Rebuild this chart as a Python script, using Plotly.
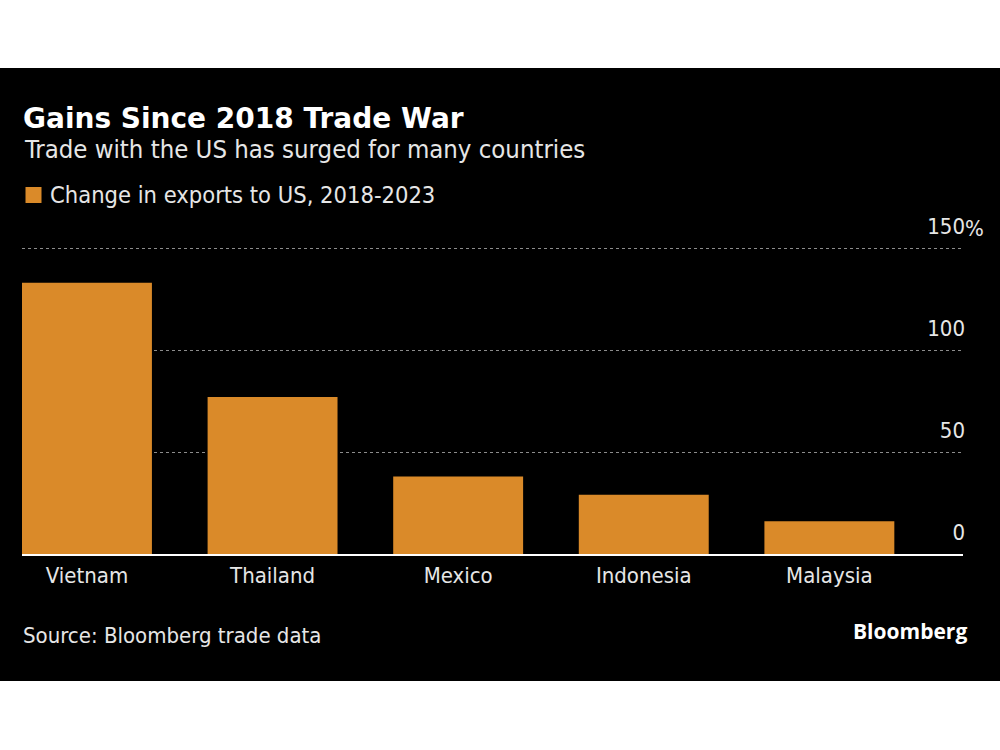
import plotly.graph_objects as go

countries = ["Vietnam", "Thailand", "Mexico", "Indonesia", "Malaysia"]
export_change = [133, 77, 38, 29, 16]
y_tickvals = [0, 50, 100, 150]
y_ticktext = ["0", "50", "100", "150"]
legend_label = "Change in exports to US, 2018-2023"

ORANGE = "#DA8A29"
TXT = "#E6E6E6"
COND = "DejaVu Sans Condensed, DejaVu Sans, sans-serif"
BOLD = "DejaVu Sans, sans-serif"

W, H = 1000, 750
PX_PER_UNIT = 2.04
ZERO_Y = 554
L, R, T, B = 22, 37, 200, H - ZERO_Y
pw, ph = W - L - R, H - T - B
y_top = ph / PX_PER_UNIT

def px_x(x):
    return (x - L) / pw

def px_y(y):
    return (H - B - y) / ph

fig = go.Figure()
fig.add_trace(go.Bar(
    x=countries, y=export_change, width=0.7,
    marker=dict(color=ORANGE, line=dict(width=0)),
    name=legend_label, showlegend=False, hoverinfo="skip",
))

fig.update_layout(
    width=W, height=H,
    margin=dict(l=L, r=R, t=T, b=B, autoexpand=False),
    paper_bgcolor="white",
    plot_bgcolor="rgba(0,0,0,0)",
    showlegend=False,
    xaxis=dict(
        range=[-0.35, 4.72],
        showgrid=False, zeroline=False,
        showline=True, linecolor="white", linewidth=2,
        ticks="", tickfont=dict(family=COND, size=22, color=TXT),
        ticklabelstandoff=1,
    ),
    yaxis=dict(
        range=[0, y_top], side="right",
        tickvals=y_tickvals, ticktext=y_ticktext,
        showgrid=True, gridcolor="#8C8C8C", gridwidth=1, griddash="dot",
        zeroline=False, showline=False, ticks="",
        ticklabelposition="inside top",
        ticklabelstandoff=-5, ticklabelshift=-6,
        tickfont=dict(family=COND, size=22, color=TXT),
    ),
    shapes=[
        dict(type="rect", xref="paper", yref="paper", layer="below",
             x0=px_x(0), x1=px_x(W), y0=px_y(681), y1=px_y(68),
             fillcolor="black", line=dict(width=0)),
        dict(type="rect", xref="paper", yref="paper", layer="above",
             x0=px_x(25.5), x1=px_x(41.5), y0=px_y(203), y1=px_y(187),
             fillcolor=ORANGE, line=dict(width=0)),
    ],
    annotations=[
        dict(text="<b>Gains Since 2018 Trade War</b>", xref="paper", yref="paper",
             x=px_x(21), y=px_y(118), xanchor="left", yanchor="middle", showarrow=False,
             font=dict(family=BOLD, size=28, color="white")),
        dict(text="Trade with the US has surged for many countries", xref="paper", yref="paper",
             x=px_x(22), y=px_y(149), xanchor="left", yanchor="middle", showarrow=False,
             font=dict(family=COND, size=25.5, color=TXT)),
        dict(text=legend_label, xref="paper", yref="paper",
             x=px_x(48), y=px_y(195), xanchor="left", yanchor="middle", showarrow=False,
             font=dict(family=COND, size=23.5, color=TXT)),
        dict(text="%", xref="paper", yref="paper",
             x=px_x(963), y=px_y(228), xanchor="left", yanchor="middle", showarrow=False,
             font=dict(family=COND, size=22, color=TXT)),
        dict(text="Source: Bloomberg trade data", xref="paper", yref="paper",
             x=px_x(21), y=px_y(635), xanchor="left", yanchor="middle", showarrow=False,
             font=dict(family=COND, size=22, color=TXT)),
        dict(text="<b>Bloomberg</b>", xref="paper", yref="paper",
             x=px_x(969), y=px_y(631), xanchor="right", yanchor="middle", showarrow=False,
             font=dict(family="Open Sans, sans-serif", size=21, color="white")),
    ],
)

fig.write_html("out.html", config={"displayModeBar": False},
               post_script="document.body.style.margin='0';")
